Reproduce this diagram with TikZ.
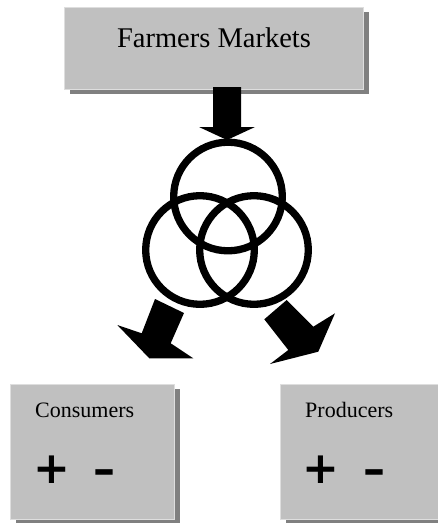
\documentclass[tikz,border=0pt]{standalone}
\usepackage{fontspec}
\setmainfont{Liberation Serif}
\newfontfamily\signfont{DejaVu Sans}
\usetikzlibrary{shadows}
\definecolor{panel}{RGB}{192,192,192}
\definecolor{panelshadow}{RGB}{128,128,128}
\definecolor{paneledge}{RGB}{222,222,222}
\tikzstyle{box}=[rectangle, fill=panel, draw=paneledge, line width=.8pt, inner sep=0pt, outer sep=0pt,
  drop shadow={shadow xshift=6pt, shadow yshift=-5pt, fill=panelshadow, opacity=1}]
\tikzstyle{ring}=[circle, draw, line width=7.3pt, minimum size=108.6pt, inner sep=0pt]
\tikzstyle{blockarrow}=[fill=black]
\tikzstyle{heading}=[inner sep=0pt, font=\fontsize{28.5}{30}\selectfont]
\tikzstyle{party}=[inner sep=0pt, anchor=base west, font=\fontsize{22}{24}\selectfont]
\tikzstyle{sign}=[inner sep=0pt, font=\signfont\bfseries\fontsize{44}{44}\selectfont]

\begin{document}
\begin{tikzpicture}[x=1pt,y=-1pt]
  \useasboundingbox (0,0) rectangle (438,523);
  \clip (0,0) rectangle (438,523);

  %% Boxes
  \draw (213.5,48) node[box, minimum width=299pt, minimum height=82pt] (market) {};
  \draw (214,47) node[heading, anchor=base] (markettext) {Farmers Markets};

  \draw (92,451.5) node[box, minimum width=164pt, minimum height=135pt] (consumers) {};
  \draw (362,451.5) node[box, minimum width=164pt, minimum height=135pt] (producers) {};
  \draw (35,417) node[party] (constext) {Consumers};
  \draw (305,417) node[party] (prodtext) {Producers};

  \draw (52,470) node[sign] (cplus) {+};
  \draw (104,477) node[sign] (cminus) {–};
  \draw (321,470) node[sign] (pplus) {+};
  \draw (374.5,477) node[sign] (pminus) {–};

  %% Rings
  \draw (228,196.5) node[ring] (R1) {};
  \draw (200,250) node[ring] (R2) {};
  \draw (254,250) node[ring] (R3) {};

  %% Block arrows
  \fill[blockarrow] (213,87) -- (241,87) -- (241,127) -- (255,127) -- (227,140) -- (199,127) -- (213,127) -- cycle;
  \fill[blockarrow] (155,299) -- (184,313) -- (170.7,343.3) -- (193.3,358.3) -- (149.3,358.3) -- (117.3,325) -- (141.7,333.3) -- cycle;
  \fill[blockarrow] (286.7,300) -- (264.3,319.3) -- (288.3,350) -- (270,364) -- (318.3,351.7) -- (335,313.3) -- (313.3,326.7) -- cycle;
\end{tikzpicture}
\end{document}
